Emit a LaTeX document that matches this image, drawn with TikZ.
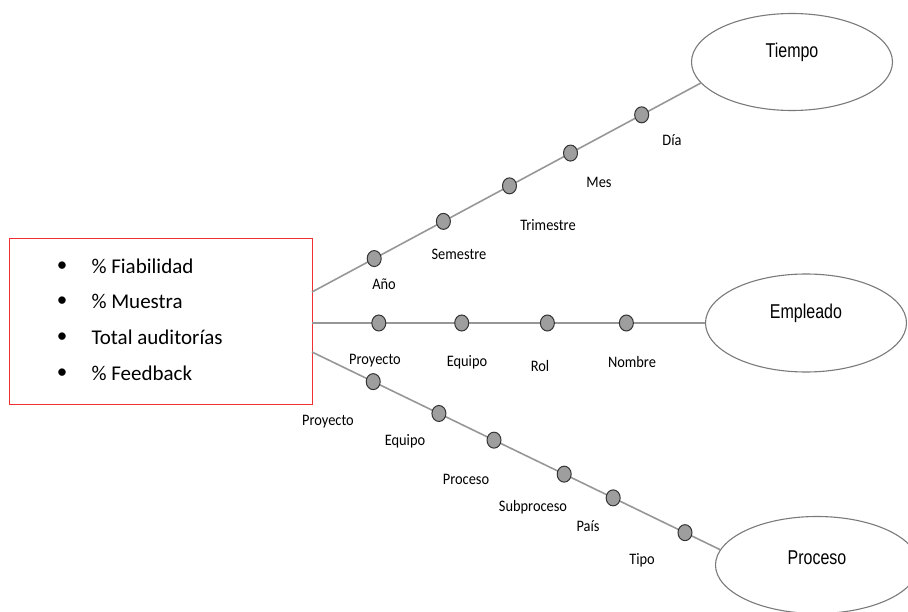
\documentclass[tikz,border=0pt]{standalone}
\usepackage{fontspec}
\setmainfont{Carlito}
\newfontfamily\labelfont[FakeStretch=0.9]{Carlito}
\newfontfamily\dimfont[FakeStretch=0.8]{Liberation Sans}
\usetikzlibrary{shapes.geometric}
\definecolor{linegray}{HTML}{979797}
\definecolor{dotfill}{HTML}{9E9E9E}
\definecolor{dotedge}{HTML}{333333}
\definecolor{boxred}{HTML}{F03030}
\definecolor{ringgray}{HTML}{7A7A7A}
\tikzset{
  branch/.style={draw=linegray, line width=1.6pt},
  dot/.style={ellipse, fill=dotfill, draw=dotedge, line width=1pt, minimum width=14pt, minimum height=16pt, inner sep=0pt},
  dim/.style={ellipse, draw=ringgray, line width=1.1pt, inner sep=0pt},
  dimtext/.style={font=\dimfont\fontsize{20}{24}\selectfont, text=black},
  lvl/.style={font=\labelfont\fontsize{16}{19}\selectfont, text=black},
  measure/.style={font=\fontsize{21}{25}\selectfont, anchor=west, text=black},
  bul/.style={font=\fontsize{21}{25}\selectfont}
}
\begin{document}
\begin{tikzpicture}[x=1pt, y=-1pt]
\useasboundingbox (0,0) rectangle (908,612);

% fact box with the measures
\node (box) [draw=boxred, line width=1pt, minimum width=303pt, minimum height=165pt, inner sep=0pt] at (160.5,321.5) {};
\node (b1) [bul] at (62,267) {\textbullet};
\node (b2) [bul] at (62,302) {\textbullet};
\node (b3) [bul] at (62,338) {\textbullet};
\node (b4) [bul] at (62,374) {\textbullet};
\node (m1) [measure] at (88,266) {\% Fiabilidad};
\node (m2) [measure] at (88,301) {\% Muestra};
\node (m3) [measure] at (88,337) {Total auditorías};
\node (m4) [measure] at (88,373) {\% Feedback};

% dimensions
\node (tiempo) [dim, minimum width=201pt, minimum height=97pt] at (792,62) {};
\node (tiempoT) [dimtext] at (792,52) {Tiempo};
\node (empleado) [dim, minimum width=201pt, minimum height=98pt] at (806,323) {};
\node (empleadoT) [dimtext] at (806,313) {Empleado};
\node (proceso) [dim, minimum width=203pt, minimum height=97pt] at (817,565) {};
\node (procesoT) [dimtext] at (817,558) {Proceso};

% anchor points on the fact box
\coordinate (t0) at (312,292);
\coordinate (e0) at (312,323);
\coordinate (p0) at (312,352);

% time hierarchy
\draw[branch] (t0) -- (tiempo.193)
  node[dot, pos=0.16] (anio) {}
  node[dot, pos=0.338] (semestre) {}
  node[dot, pos=0.508] (trimestre) {}
  node[dot, pos=0.665] (mes) {}
  node[dot, pos=0.848] (dia) {};
\node (anioL) [lvl] at (384,284) {Año};
\node (semestreL) [lvl] at (459,254) {Semestre};
\node (trimestreL) [lvl] at (548,225) {Trimestre};
\node (mesL) [lvl] at (599,182) {Mes};
\node (diaL) [lvl] at (672,140) {Día};

% employee hierarchy
\draw[branch] (e0) -- (empleado.west)
  node[dot, pos=0.17] (eproy) {}
  node[dot, pos=0.381] (eequipo) {}
  node[dot, pos=0.599] (erol) {}
  node[dot, pos=0.80] (enombre) {};
\node (eproyL) [lvl] at (375,361) {Proyecto};
\node (eequipoL) [lvl] at (467,362) {Equipo};
\node (erolL) [lvl] at (540,366) {Rol};
\node (enombreL) [lvl] at (632,362) {Nombre};

% process hierarchy
\draw[branch] (p0) -- (proceso.171)
  node[dot, pos=0.15] (pproy) {}
  node[dot, pos=0.311] (pequipo) {}
  node[dot, pos=0.446] (pproceso) {}
  node[dot, pos=0.618] (psub) {}
  node[dot, pos=0.738] (ppais) {}
  node[dot, pos=0.914] (ptipo) {};
\node (pproyL) [lvl] at (328,422) {Proyecto};
\node (pequipoL) [lvl] at (405,441) {Equipo};
\node (pprocesoL) [lvl] at (466,479) {Proceso};
\node (psubL) [lvl] at (533,507) {Subproceso};
\node (ppaisL) [lvl] at (588,526) {País};
\node (ptipoL) [lvl] at (642,560) {Tipo};
\end{tikzpicture}
\end{document}
